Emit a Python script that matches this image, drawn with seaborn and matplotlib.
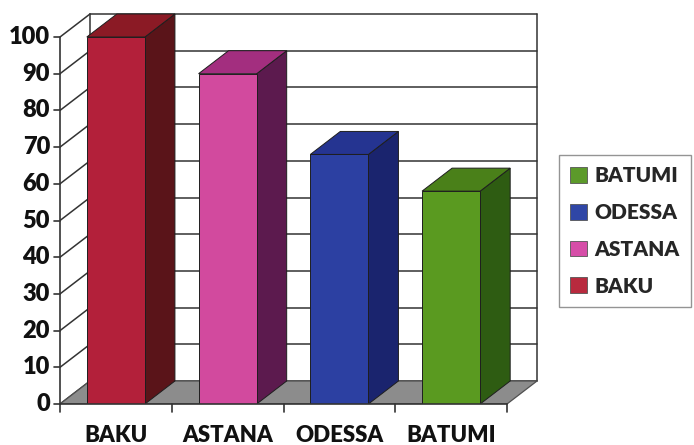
import matplotlib
matplotlib.use("Agg")
import matplotlib.pyplot as plt
import seaborn as sns
import pandas as pd
from matplotlib.patches import Polygon, Patch

# Data
cities = ["BAKU", "ASTANA", "ODESSA", "BATUMI"]
scores = [100, 90, 68, 58]
y_ticks = [0, 10, 20, 30, 40, 50, 60, 70, 80, 90, 100]

# Face colours: front, side (shaded), top
front_colors = ["#b3203a", "#d24a9e", "#2c40a2", "#5a9a20"]
side_colors = ["#5a1419", "#5c1a4e", "#1a246e", "#2e5c12"]
top_colors = ["#8b1a25", "#a32e7f", "#253491", "#4a8019"]
legend_colors = ["#b82a3e", "#d64ea8", "#2f46a6", "#5c9a2a"]

sns.set_theme(style="white")
plt.rcParams["font.family"] = ["Lato", "DejaVu Sans"]
WEIGHT = "heavy"

W, H = 694, 445
fig = plt.figure(figsize=(W / 100, H / 100), dpi=100)
fig.patch.set_facecolor("white")

# plotting region in pixels (front plane origin at left/bottom)
left_px, right_px, bottom_px, top_px = 60, 540, 404, 13
ax = fig.add_axes([left_px / W, 1 - bottom_px / H,
                   (right_px - left_px) / W, (bottom_px - top_px) / H])

df = pd.DataFrame({"city": cities, "score": scores})
sns.barplot(data=df, x="city", y="score", hue="city", order=cities,
            hue_order=cities, palette=front_colors, width=0.52,
            legend=False, ax=ax, zorder=5, edgecolor="#1e1e1e",
            linewidth=0.7, saturation=1)

cat_px = 111.75   # pixels per category
val_px = 3.67     # pixels per value unit
ax.set_xlim(-0.5, -0.5 + (right_px - left_px) / cat_px)
ax.set_ylim(0, (bottom_px - top_px) / val_px)
ax.axis("off")

# depth offset of the 3-D box
dx = 30 / cat_px
dy = 23 / val_px
x_lo, x_hi = -0.5, 3.5
y_top = y_ticks[-1]
grid_c = "#333333"

bars = sorted(ax.patches, key=lambda p: p.get_x())

# floor
floor = Polygon([(x_lo, 0), (x_hi, 0), (x_hi + dx, dy), (x_lo + dx, dy)],
                closed=True, facecolor="#8c8c8c", edgecolor="#505050",
                lw=0.9, zorder=1)
ax.add_patch(floor)

# back wall and side wall grid
for v in y_ticks:
    ax.plot([x_lo + dx, x_hi + dx], [v + dy, v + dy], color=grid_c, lw=1.1,
            zorder=0.5)
    ax.plot([x_lo, x_lo + dx], [v, v + dy], color=grid_c, lw=1.1, zorder=0.5)
ax.plot([x_lo + dx, x_lo + dx], [dy, y_top + dy], color=grid_c, lw=1.1, zorder=0.5)
ax.plot([x_hi + dx, x_hi + dx], [dy, y_top + dy], color=grid_c, lw=1.1, zorder=0.5)

# front value axis
ax.plot([x_lo, x_lo], [0, y_top], color=grid_c, lw=1.2, zorder=6, clip_on=False)
tick_len = 6 / cat_px
for v in y_ticks:
    ax.plot([x_lo - tick_len, x_lo], [v, v], color=grid_c, lw=1.2,
            zorder=6, clip_on=False)
    ax.text(x_lo - 10 / cat_px, v, str(v), ha="right", va="center",
            fontsize=17, fontweight=WEIGHT, color="#111111", clip_on=False)

# front category axis
ax.plot([x_lo, x_hi], [0, 0], color=grid_c, lw=1.2, zorder=6, clip_on=False)
for b in range(len(cities) + 1):
    xb = x_lo + b
    ax.plot([xb, xb], [0, -8 / val_px], color=grid_c, lw=1.2, zorder=6,
            clip_on=False)
for i, name in enumerate(cities):
    ax.text(i, -32 / val_px, name, ha="center", va="center", fontsize=16,
            fontweight=WEIGHT, color="#111111", clip_on=False)

# 3-D side and top faces for each bar
for i, p in enumerate(bars):
    x0 = p.get_x()
    x1 = x0 + p.get_width()
    h = p.get_height()
    side = Polygon([(x1, 0), (x1 + dx, dy), (x1 + dx, h + dy), (x1, h)],
                   closed=True, facecolor=side_colors[i], edgecolor="#1e1e1e",
                   lw=0.7, zorder=4)
    top = Polygon([(x0, h), (x1, h), (x1 + dx, h + dy), (x0 + dx, h + dy)],
                  closed=True, facecolor=top_colors[i], edgecolor="#1e1e1e",
                  lw=0.7, zorder=4)
    ax.add_patch(side)
    ax.add_patch(top)

# legend (reverse order)
handles = [Patch(facecolor=legend_colors[i], edgecolor="#555555", lw=0.6)
           for i in reversed(range(len(cities)))]
labels = [cities[i] for i in reversed(range(len(cities)))]
leg = fig.legend(handles, labels, loc="upper left",
                 bbox_to_anchor=(559 / W, 1 - 155 / H),
                 bbox_transform=fig.transFigure, frameon=True, fancybox=False,
                 edgecolor="#7a7a7a", prop=dict(weight=WEIGHT, size=15),
                 handlelength=0.78, handleheight=0.78, handletextpad=0.35,
                 labelspacing=0.85, borderpad=0.55, borderaxespad=0)
leg.get_frame().set_linewidth(1.0)

fig.savefig("out.png", dpi=100)
